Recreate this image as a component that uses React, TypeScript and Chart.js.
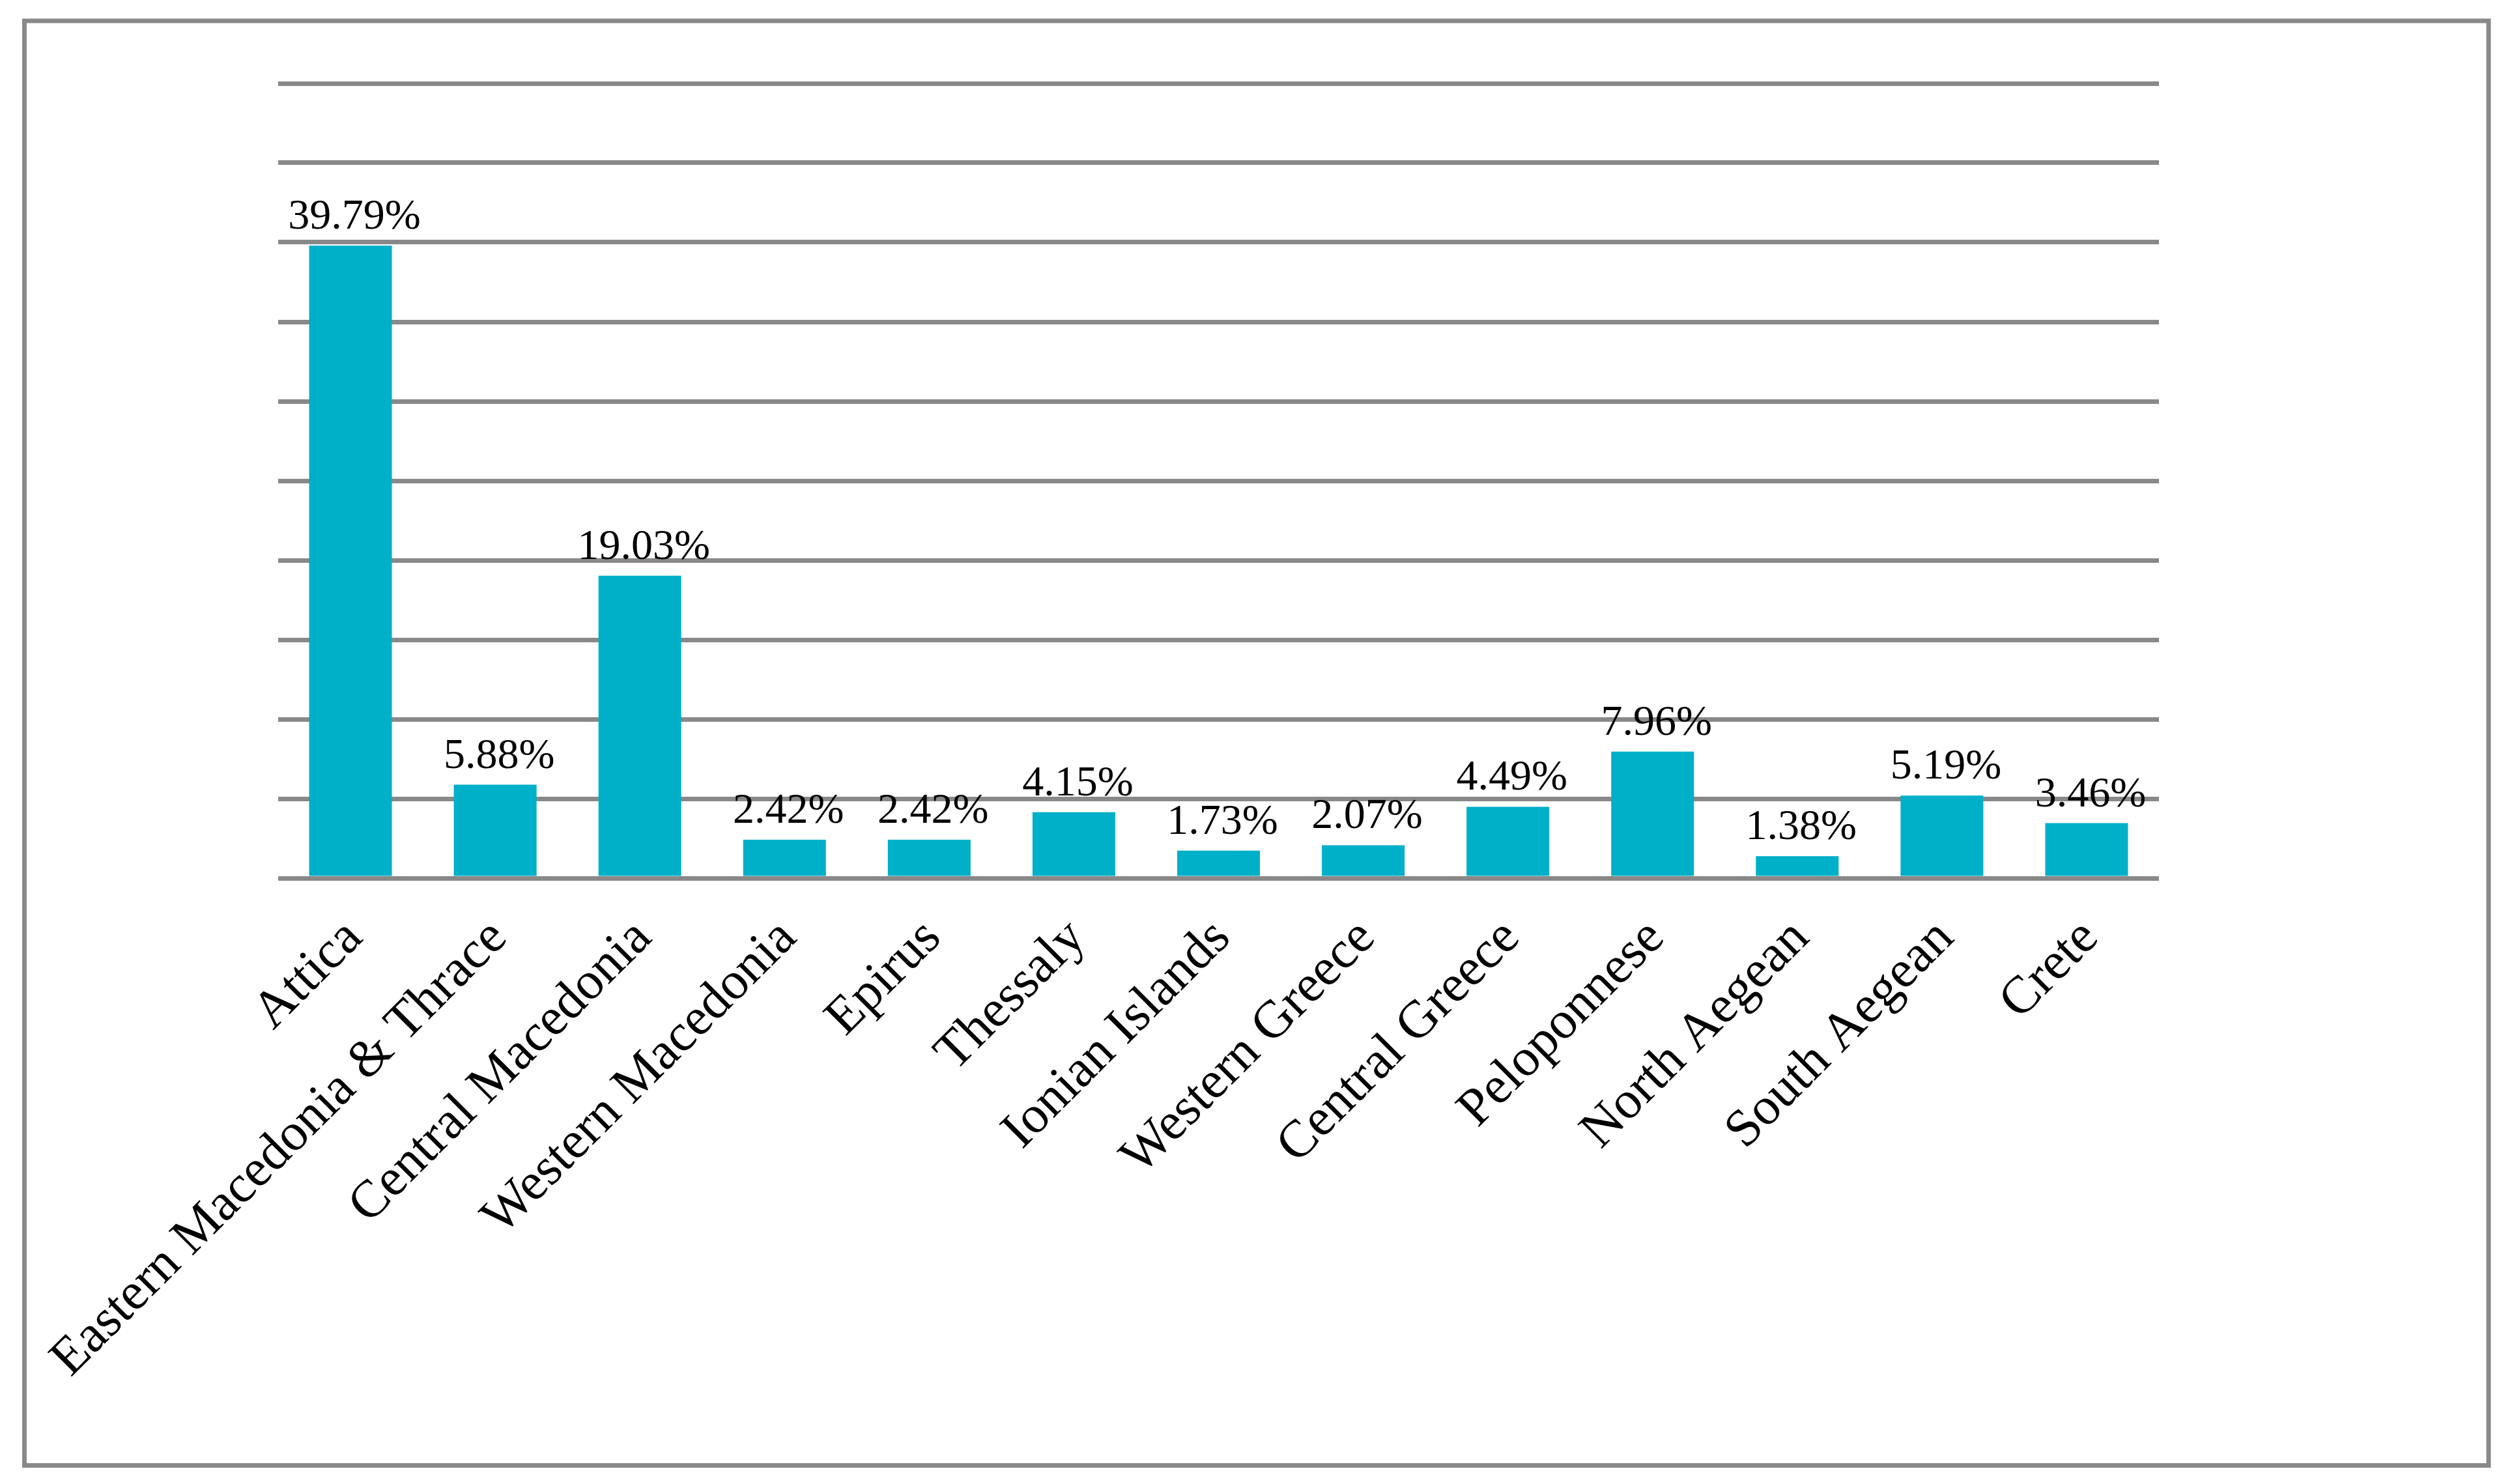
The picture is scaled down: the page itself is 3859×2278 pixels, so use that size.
import React, { useEffect, useRef } from "react";
import { Chart, registerables } from "chart.js";

Chart.register(...registerables);

// ---- data ----
const categories = [
  "Attica",
  "Eastern Macedonia & Thrace",
  "Central Macedonia",
  "Western Macedonia",
  "Epirus",
  "Thessaly",
  "Ionian Islands",
  "Western Greece",
  "Central Greece",
  "Peloponnese",
  "North Aegean",
  "South Aegean",
  "Crete",
];
const shares = [39.79, 5.88, 19.03, 2.42, 2.42, 4.15, 1.73, 2.07, 4.49, 7.96, 1.38, 5.19, 3.46];
const valueLabels = ["39.79%", "5.88%", "19.03%", "2.42%", "2.42%", "4.15%", "1.73%", "2.07%", "4.49%", "7.96%", "1.38%", "5.19%", "3.46%"];
const yMin = 0;
const yMax = 50;
const yStep = 5;

// ---- style ----
const W = 3859;
const H = 2278;
const BAR_COLOR = "#00AFC8";
const GRID_COLOR = "#898989";
const FONT = "'Liberation Serif', 'Times New Roman', serif";

const frameBorder = {
  id: "frameBorder",
  beforeDraw(chart: any) {
    const ctx = chart.ctx;
    ctx.save();
    ctx.fillStyle = "#ffffff";
    ctx.fillRect(0, 0, chart.width, chart.height);
    ctx.strokeStyle = GRID_COLOR;
    ctx.lineWidth = 7;
    ctx.strokeRect(37.5, 32, 3820 - 37.5, 2249.5 - 32);
    ctx.restore();
  },
};

const valueLabelPlugin = {
  id: "valueLabelPlugin",
  afterDatasetsDraw(chart: any) {
    const meta = chart.getDatasetMeta(0);
    const ctx = chart.ctx;
    ctx.save();
    ctx.font = `66px ${FONT}`;
    ctx.fillStyle = "#000000";
    ctx.textAlign = "center";
    ctx.textBaseline = "alphabetic";
    meta.data.forEach((bar: any, i: number) => {
      ctx.fillText(valueLabels[i], bar.x + 6, bar.y - 26);
    });
    ctx.restore();
  },
};

export default function App() {
  const ref = useRef<HTMLCanvasElement | null>(null);

  useEffect(() => {
    if (!ref.current) return;
    const chart = new Chart(ref.current, {
      type: "bar",
      data: {
        labels: categories,
        datasets: [
          {
            data: shares,
            backgroundColor: BAR_COLOR,
            borderWidth: 0,
            categoryPercentage: 1,
            barPercentage: 0.572,
          },
        ],
      },
      options: {
        responsive: false,
        animation: false,
        devicePixelRatio: 1,
        layout: { padding: { left: 427, top: 128, right: W - 3314, bottom: 0 } },
        plugins: {
          legend: { display: false },
          tooltip: { enabled: false },
          title: { display: false },
        },
        scales: {
          x: {
            grid: { display: false, drawTicks: false },
            border: { display: false },
            ticks: {
              autoSkip: false,
              maxRotation: 45,
              minRotation: 45,
              color: "#000000",
              padding: 45,
              labelOffset: 6,
              font: { family: FONT, size: 81 },
            },
            afterFit: (s: any) => {
              s.height = H - 1348;
            },
          },
          y: {
            min: yMin,
            max: yMax,
            ticks: { display: false, stepSize: yStep },
            border: { display: false },
            grid: { color: GRID_COLOR, lineWidth: 7, drawTicks: false },
            afterFit: (s: any) => {
              s.width = 0;
            },
          },
        },
      },
      plugins: [frameBorder, valueLabelPlugin],
    });
    return () => chart.destroy();
  }, []);

  return (
    <div style={{ position: "fixed", left: 0, top: 0, width: W, height: H, background: "#fff" }}>
      <canvas ref={ref} width={W} height={H} style={{ width: W, height: H, display: "block" }} />
    </div>
  );
}
